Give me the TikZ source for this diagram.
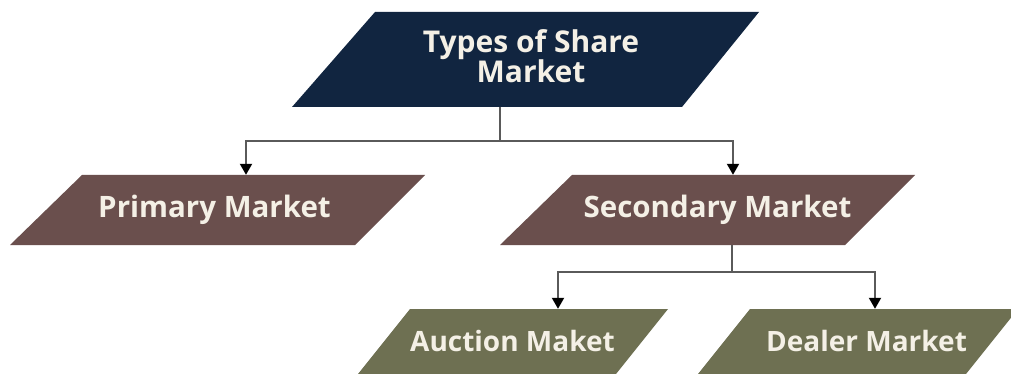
\documentclass[tikz,border=0pt]{standalone}
\usepackage{fontspec}
\setmainfont{Open Sans}
\usetikzlibrary{arrows.meta}
\definecolor{navy}{RGB}{17,37,64}
\definecolor{mauve}{RGB}{106,79,77}
\definecolor{olive}{RGB}{110,112,82}
\definecolor{cream}{RGB}{244,240,230}
\definecolor{connc}{RGB}{90,90,90}
\tikzset{
  lbl/.style={text=cream, font=\bfseries\fontsize{28}{30}\selectfont, align=center, inner sep=0pt,
    minimum height=70pt, text height=21pt, text depth=6pt},
  midlbl/.style={lbl, font=\bfseries\fontsize{29.5}{30}\selectfont},
  toplbl/.style={lbl, font=\bfseries\fontsize{30}{30}\selectfont, minimum height=95pt,
    text height=53pt, text depth=6pt},
  link/.style={draw=connc, line width=2pt},
  arr/.style={link, -{Triangle[width=12pt,length=11pt,color=black]}},
}
\begin{document}
\begin{tikzpicture}[x=1pt,y=-1pt]
\useasboundingbox (0,0) rectangle (1011,374);
\fill[white] (0,0) rectangle (1011,374);
\begin{scope}
\clip (0,0) rectangle (1011,374);
% shapes
\fill[navy] (375,12) -- (759,12) -- (682,107) -- (292,107) -- cycle;
\fill[mauve] (82,175) -- (425,175) -- (355,245) -- (10,245) -- cycle;
\fill[mauve] (572,175) -- (915,175) -- (845,245) -- (500,245) -- cycle;
\fill[olive] (410,309) -- (668,309) -- (612,379) -- (354,379) -- cycle;
\fill[olive] (750,309) -- (1018,309) -- (962,379) -- (694,379) -- cycle;
\end{scope}
% labels
\node[toplbl] (top) at (531,59.5) {Types of Share\\Market};
\node[midlbl] (primary) at (214.5,210) {Primary Market};
\node[midlbl] (secondary) at (717.5,210) {Secondary Market};
\node[lbl] (auction) at (512.5,344) {Auction Maket};
\node[lbl] (dealer) at (866.5,344) {Dealer Market};
% connectors
\coordinate (j1) at (500,141);
\coordinate (j2) at (732,272);
\draw[link] ([xshift=-31pt]top.south) -- (j1);
\draw[arr] (j1) -| ([xshift=31.5pt]primary.north);
\draw[arr] (j1) -| ([xshift=15.5pt]secondary.north);
\draw[link] ([xshift=14.5pt]secondary.south) -- (j2);
\draw[arr] (j2) -| ([xshift=45.5pt]auction.north);
\draw[arr] (j2) -| ([xshift=8.5pt]dealer.north);
\end{tikzpicture}
\end{document}
